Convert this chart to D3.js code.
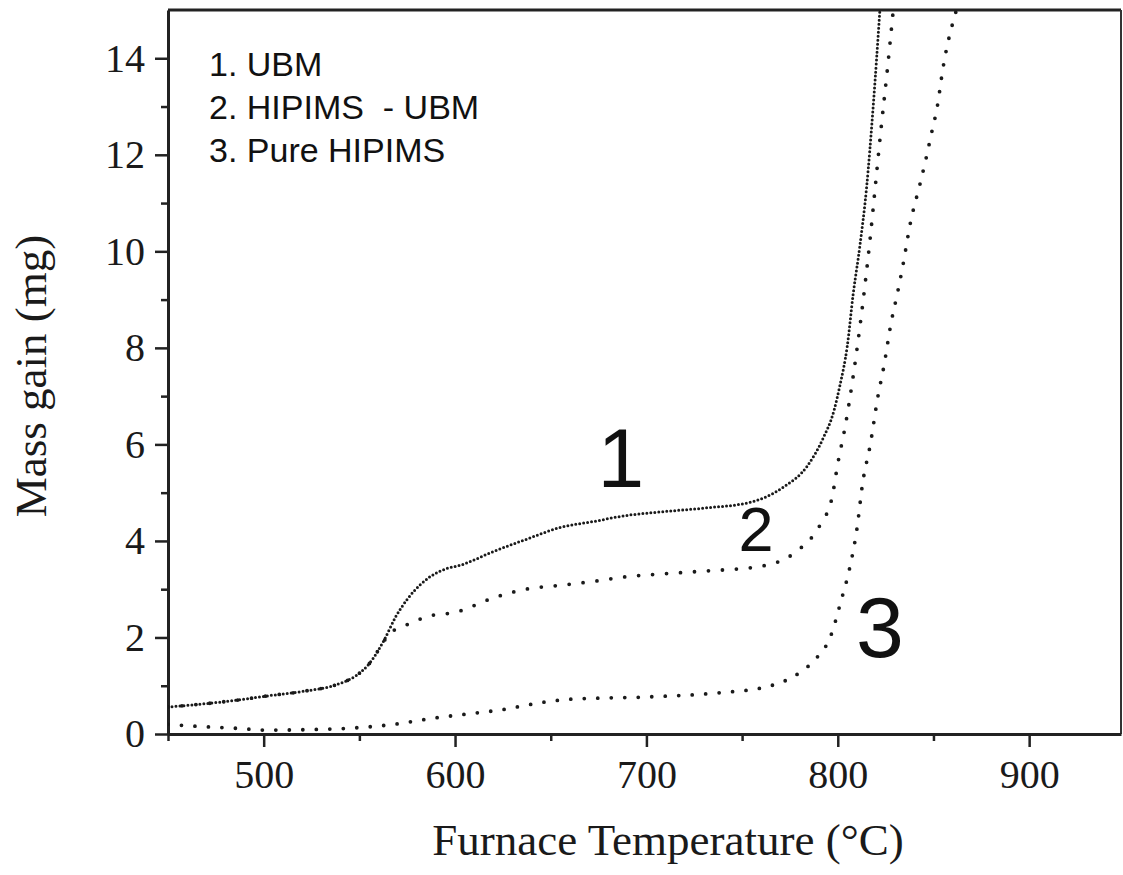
<!DOCTYPE html>
<html>
<head>
<meta charset="utf-8">
<script src="https://cdn.jsdelivr.net/npm/d3@7"></script>
<style>
  html, body { margin: 0; padding: 0; background: #fff; }
  svg { display: block; }
</style>
</head>
<body>
<svg id="chart" width="1123" height="875"></svg>
<script>
/* Data: furnace temperature (°C) vs mass gain (mg) */
const ubmTemp = [450, 470, 488, 502, 520, 540, 548, 555, 563, 569, 575, 582, 587, 595, 603, 620, 637, 655, 672, 690, 707, 730, 754, 771, 784, 792, 798, 801, 805, 808, 811.5, 815, 818.5, 822];
const ubmMass = [0.56, 0.63, 0.71, 0.79, 0.88, 1.05, 1.2, 1.45, 1.95, 2.43, 2.79, 3.1, 3.26, 3.42, 3.5, 3.78, 4.03, 4.28, 4.4, 4.53, 4.6, 4.68, 4.8, 5.1, 5.55, 6.1, 6.7, 7.2, 8.05, 9.1, 10.1, 11.3, 13.0, 15.0];

const hybridTemp = [450, 470, 488, 502, 520, 540, 548, 555, 561, 566, 570, 577, 585, 601, 620, 637, 655, 672, 690, 702, 728, 759, 779, 791, 797, 800, 804, 808, 811.6, 814.5, 817, 819.5, 822.5, 826, 829];
const hybridMass = [0.56, 0.63, 0.71, 0.79, 0.88, 1.05, 1.2, 1.45, 1.8, 2.1, 2.18, 2.3, 2.43, 2.53, 2.82, 3.0, 3.08, 3.16, 3.26, 3.3, 3.37, 3.47, 3.8, 4.35, 4.9, 5.6, 6.4, 7.4, 8.45, 9.4, 10.3, 11.3, 12.5, 13.8, 15.0];

const hipimsTemp = [450, 465, 485, 502, 523, 545, 568, 589, 610, 624, 645, 660, 702, 737, 763, 780, 789, 796, 802, 806, 810, 813, 817, 821, 824, 828, 831, 834, 838, 843, 846, 849, 852, 855, 862];
const hipimsMass = [0.2, 0.16, 0.12, 0.08, 0.09, 0.12, 0.2, 0.33, 0.43, 0.5, 0.65, 0.72, 0.77, 0.85, 0.98, 1.27, 1.58, 2.0, 2.8, 3.4, 4.25, 5.2, 6.0, 7.0, 7.6, 8.55, 9.1, 9.7, 10.6, 11.4, 11.9, 12.45, 13.0, 13.8, 15.0];

const xMajorTicks = [500, 600, 700, 800, 900];
const xMinorTicks = [450, 550, 650, 750, 850];
const yMajorTicks = [0, 2, 4, 6, 8, 10, 12, 14];
const yMinorTicks = [1, 3, 5, 7, 9, 11, 13];

const legendLines = ["1. UBM", "2. HIPIMS  - UBM", "3. Pure HIPIMS"];
const curveLabels = ["1", "2", "3"];
const curveLabelTemp = [686.7, 757.3, 822];
const curveLabelMass = [5.12, 3.79, 1.6];

/* Layout */
const plot = { left: 168, right: 1121, top: 10, bottom: 734 };
const serif = "'Liberation Serif', 'Times New Roman', serif";
const sans = "'Liberation Sans', Arial, sans-serif";

const svg = d3.select("svg#chart");

const x = d3.scaleLinear().domain([450, 948]).range([plot.left, plot.right]);
const y = d3.scaleLinear().domain([0, 15]).range([plot.bottom, plot.top]);

// Frame: top and right edges
svg.append("line")
  .attr("x1", plot.left).attr("x2", plot.right)
  .attr("y1", plot.top).attr("y2", plot.top)
  .attr("stroke", "#222").attr("stroke-width", 3);
svg.append("line")
  .attr("x1", plot.right).attr("x2", plot.right)
  .attr("y1", plot.top).attr("y2", plot.bottom)
  .attr("stroke", "#333").attr("stroke-width", 2);

// Bottom axis: major ticks with labels, minor ticks without
const xAxisMajor = d3.axisBottom(x).tickValues(xMajorTicks).tickSize(13).tickPadding(13).tickSizeOuter(0);
const xAxisMinor = d3.axisBottom(x).tickValues(xMinorTicks).tickSize(7).tickFormat("").tickSizeOuter(0);

svg.append("g").attr("transform", `translate(0,${plot.bottom})`).call(xAxisMajor);
svg.append("g").attr("transform", `translate(0,${plot.bottom})`).call(xAxisMinor)
  .select(".domain").remove();

// Left axis
const yAxisMajor = d3.axisLeft(y).tickValues(yMajorTicks).tickSize(13).tickPadding(10).tickSizeOuter(0);
const yAxisMinor = d3.axisLeft(y).tickValues(yMinorTicks).tickSize(7).tickFormat("").tickSizeOuter(0);

svg.append("g").attr("transform", `translate(${plot.left},0)`).call(yAxisMajor);
svg.append("g").attr("transform", `translate(${plot.left},0)`).call(yAxisMinor)
  .select(".domain").remove();

svg.selectAll(".domain").attr("stroke", "#222").attr("stroke-width", 3);
svg.selectAll(".tick line").attr("stroke", "#222").attr("stroke-width", 2.5);
svg.selectAll(".tick text")
  .attr("fill", "#1a1a1a")
  .style("font-family", serif)
  .style("font-size", "40px");

// Axis titles
svg.append("text")
  .attr("x", 668).attr("y", 855)
  .attr("text-anchor", "middle")
  .attr("fill", "#1a1a1a")
  .style("font-family", serif)
  .style("font-size", "45px")
  .text("Furnace Temperature (°C)");

svg.append("text")
  .attr("transform", "translate(46,376) rotate(-90)")
  .attr("text-anchor", "middle")
  .attr("fill", "#1a1a1a")
  .style("font-family", serif)
  .style("font-size", "45px")
  .text("Mass gain (mg)");

// Curves
svg.append("clipPath").attr("id", "plot-clip")
  .append("rect")
  .attr("x", plot.left).attr("y", plot.top)
  .attr("width", plot.right - plot.left).attr("height", plot.bottom - plot.top);

const line = d3.line()
  .x(d => x(d[0]))
  .y(d => y(d[1]))
  .curve(d3.curveMonotoneX);

const series = [
  { temp: hipimsTemp, mass: hipimsMass, width: 3.8, dash: "0 13.5" },
  { temp: hybridTemp, mass: hybridMass, width: 3.8, dash: "0 14" },
  { temp: ubmTemp, mass: ubmMass, width: 3, dash: "0 4" }
];

svg.append("g").attr("clip-path", "url(#plot-clip)")
  .selectAll("path")
  .data(series)
  .join("path")
  .attr("d", s => line(d3.zip(s.temp, s.mass)))
  .attr("fill", "none")
  .attr("stroke", "#1a1a1a")
  .attr("stroke-width", s => s.width)
  .attr("stroke-linecap", "round")
  .attr("stroke-dasharray", s => s.dash);

// Legend text block
svg.append("g")
  .selectAll("text")
  .data(legendLines)
  .join("text")
  .attr("x", 209)
  .attr("y", (d, i) => 76 + i * 43)
  .attr("fill", "#111")
  .style("font-family", sans)
  .style("font-size", "34px")
  .style("white-space", "pre")
  .text(d => d);

// Big curve numbers
const labelSizes = [84, 63, 86];
svg.append("g")
  .selectAll("text")
  .data(curveLabels)
  .join("text")
  .attr("x", (d, i) => x(curveLabelTemp[i]))
  .attr("y", (d, i) => y(curveLabelMass[i]))
  .attr("text-anchor", "middle")
  .attr("fill", "#111")
  .style("font-family", sans)
  .style("font-size", (d, i) => labelSizes[i] + "px")
  .text(d => d);
</script>
</body>
</html>
